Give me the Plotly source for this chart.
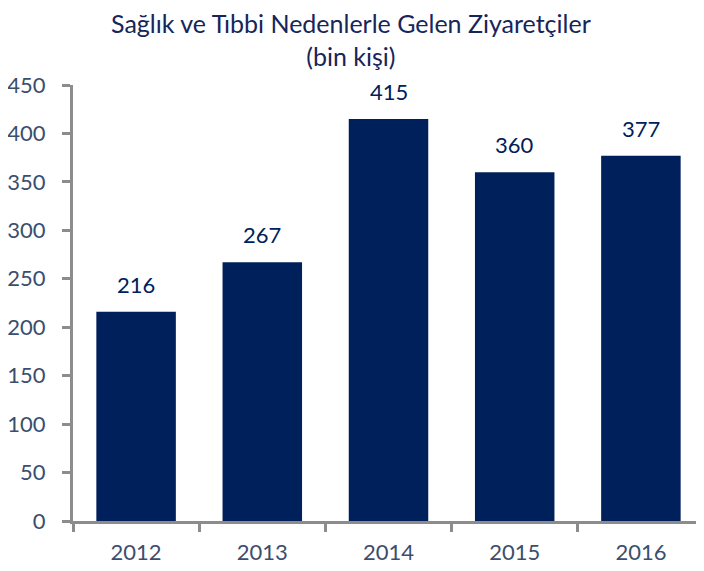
import plotly.graph_objects as go

years = ["2012", "2013", "2014", "2015", "2016"]
visitors = [216, 267, 415, 360, 377]
y_ticks = [0, 50, 100, 150, 200, 250, 300, 350, 400, 450]

navy = "#00205B"
axis_gray = "#8C8C8C"
label_col = "#3B4E6E"
font_family = "Lato, 'Open Sans', sans-serif"

fig = go.Figure(go.Bar(
    x=years, y=visitors,
    marker=dict(color=navy, line=dict(width=0)),
    textposition="none",
    cliponaxis=False,
))

for i, v in enumerate(visitors):
    fig.add_annotation(
        x=i, y=v, xref="x", yref="y", text=str(v), showarrow=False,
        yanchor="bottom", yshift=12,
        font=dict(family=font_family, size=22, color=navy),
    )

fig.add_annotation(
    text="Sağlık ve Tıbbi Nedenlerle Gelen Ziyaretçiler<br>(bin kişi)",
    xref="paper", yref="paper", x=0.441, y=1, yshift=78, yanchor="top",
    xanchor="center", showarrow=False, borderpad=0,
    font=dict(family=font_family, size=25, color="#16255A"),
)

fig.update_layout(
    width=696, height=563,
    paper_bgcolor="white", plot_bgcolor="white",
    margin=dict(l=65, r=0, t=77, b=50, autoexpand=False),
    bargap=0.37,
    showlegend=False,
)
fig.update_yaxes(
    range=[0, 450], tickvals=y_ticks, automargin=False,
    showgrid=False, zeroline=False,
    showline=True, linecolor=axis_gray, linewidth=3,
    ticks="outside", ticklen=8, tickwidth=3, tickcolor=axis_gray,
    ticklabelstandoff=12,
    tickfont=dict(family=font_family, size=22, color=label_col),
)
fig.update_xaxes(
    type="category", automargin=False, range=[-0.5, 4.5],
    showgrid=False,
    showline=True, linecolor=axis_gray, linewidth=3,
    ticks="outside", ticklen=8, tickwidth=3, tickcolor=axis_gray,
    tickson="boundaries",
    ticklabelstandoff=10,
    tickfont=dict(family=font_family, size=22, color=label_col),
)

fig.write_html("out.html")
